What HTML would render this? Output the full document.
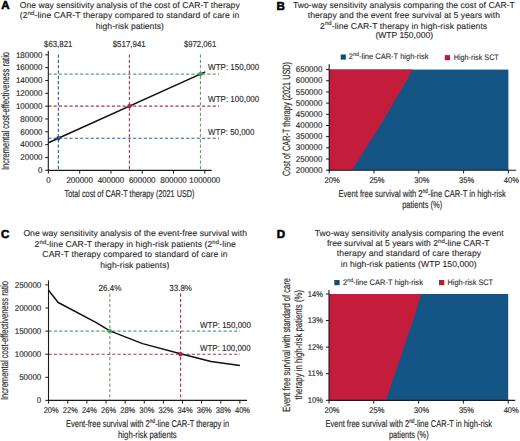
<!DOCTYPE html>
<html><head><meta charset="utf-8"><style>
html,body{margin:0;padding:0;background:#fff;}
svg{display:block;}
text{font-family:"Liberation Sans", sans-serif;text-rendering:geometricPrecision;}
</style></head><body>
<svg width="520" height="441" viewBox="0 0 520 441">
<rect x="0" y="0" width="520" height="441" fill="#fff"/>
<text x="1.3" y="9.3" font-size="11.6" text-anchor="start" font-weight="bold" fill="#000" stroke="#000" stroke-width="0.55">A</text>
<text x="129.75" y="8.4" font-size="8.6" text-anchor="middle" font-weight="normal" fill="#2b2b2b" stroke="#2b2b2b" stroke-width="0.12" textLength="219.9" lengthAdjust="spacing">One way sensitivity analysis of the cost of CAR-T therapy</text>
<text x="129.5" y="18.3" font-size="8.6" text-anchor="middle" font-weight="normal" fill="#2b2b2b" stroke="#2b2b2b" stroke-width="0.12" textLength="219.4" lengthAdjust="spacing">(2<tspan font-size="6" dy="-3.3">nd</tspan><tspan dy="3.3">-line CAR-T therapy compared to standard of care in</tspan></text>
<text x="129.9" y="28.8" font-size="8.6" text-anchor="middle" font-weight="normal" fill="#2b2b2b" stroke="#2b2b2b" stroke-width="0.12" textLength="68.2" lengthAdjust="spacing">high-risk patients)</text>
<line x1="58.3816044" y1="54.5" x2="58.3816044" y2="170.4" stroke="#2b6290" stroke-width="1.1" stroke-dasharray="3.2 2.1"/>
<line x1="48.3" y1="138.22500000000002" x2="219" y2="138.22500000000002" stroke="#2b6290" stroke-width="1.1" stroke-dasharray="3.2 2.1"/>
<line x1="129.4059724" y1="54.5" x2="129.4059724" y2="170.4" stroke="#a8335a" stroke-width="1.1" stroke-dasharray="3.2 2.1"/>
<line x1="48.3" y1="106.15" x2="219" y2="106.15" stroke="#a8335a" stroke-width="1.1" stroke-dasharray="3.2 2.1"/>
<line x1="200.4303404" y1="54.5" x2="200.4303404" y2="170.4" stroke="#62a070" stroke-width="1.1" stroke-dasharray="3.2 2.1"/>
<line x1="48.3" y1="74.07500000000002" x2="219" y2="74.07500000000002" stroke="#62a070" stroke-width="1.1" stroke-dasharray="3.2 2.1"/>
<text x="58.2" y="47.2" font-size="8.7" text-anchor="middle" font-weight="normal" fill="#2b2b2b" stroke="#2b2b2b" stroke-width="0.14" textLength="28.3" lengthAdjust="spacingAndGlyphs">$63,821</text>
<text x="129.2" y="47.2" font-size="8.7" text-anchor="middle" font-weight="normal" fill="#2b2b2b" stroke="#2b2b2b" stroke-width="0.14" textLength="33.1" lengthAdjust="spacingAndGlyphs">$517,941</text>
<text x="200.1" y="47.2" font-size="8.7" text-anchor="middle" font-weight="normal" fill="#2b2b2b" stroke="#2b2b2b" stroke-width="0.14" textLength="32.3" lengthAdjust="spacingAndGlyphs">$972,061</text>
<text x="208.1" y="70.4" font-size="8.7" text-anchor="start" font-weight="normal" fill="#2b2b2b" stroke="#2b2b2b" stroke-width="0.14" textLength="51.2" lengthAdjust="spacingAndGlyphs">WTP: 150,000</text>
<text x="208.1" y="102.1" font-size="8.7" text-anchor="start" font-weight="normal" fill="#2b2b2b" stroke="#2b2b2b" stroke-width="0.14" textLength="51.2" lengthAdjust="spacingAndGlyphs">WTP: 100,000</text>
<text x="208.1" y="134.5" font-size="8.7" text-anchor="start" font-weight="normal" fill="#2b2b2b" stroke="#2b2b2b" stroke-width="0.14" textLength="46.3" lengthAdjust="spacingAndGlyphs">WTP: 50,000</text>
<line x1="48.3" y1="51" x2="48.3" y2="170.9" stroke="#1a1a1a" stroke-width="1.1"/>
<line x1="47.8" y1="170.4" x2="211.7" y2="170.4" stroke="#1a1a1a" stroke-width="1.1"/>
<line x1="45.2" y1="170.3" x2="48.3" y2="170.3" stroke="#1a1a1a" stroke-width="1"/>
<text x="42.5" y="173.0" font-size="8.4" text-anchor="end" font-weight="normal" fill="#2b2b2b" stroke="#2b2b2b" stroke-width="0.16" textLength="4.43" lengthAdjust="spacingAndGlyphs">0</text>
<line x1="45.2" y1="157.47" x2="48.3" y2="157.47" stroke="#1a1a1a" stroke-width="1"/>
<text x="42.5" y="160.17" font-size="8.4" text-anchor="end" font-weight="normal" fill="#2b2b2b" stroke="#2b2b2b" stroke-width="0.16" textLength="22.15" lengthAdjust="spacingAndGlyphs">20000</text>
<line x1="45.2" y1="144.64000000000001" x2="48.3" y2="144.64000000000001" stroke="#1a1a1a" stroke-width="1"/>
<text x="42.5" y="147.34" font-size="8.4" text-anchor="end" font-weight="normal" fill="#2b2b2b" stroke="#2b2b2b" stroke-width="0.16" textLength="22.15" lengthAdjust="spacingAndGlyphs">40000</text>
<line x1="45.2" y1="131.81" x2="48.3" y2="131.81" stroke="#1a1a1a" stroke-width="1"/>
<text x="42.5" y="134.51" font-size="8.4" text-anchor="end" font-weight="normal" fill="#2b2b2b" stroke="#2b2b2b" stroke-width="0.16" textLength="22.15" lengthAdjust="spacingAndGlyphs">60000</text>
<line x1="45.2" y1="118.98000000000002" x2="48.3" y2="118.98000000000002" stroke="#1a1a1a" stroke-width="1"/>
<text x="42.5" y="121.68000000000002" font-size="8.4" text-anchor="end" font-weight="normal" fill="#2b2b2b" stroke="#2b2b2b" stroke-width="0.16" textLength="22.15" lengthAdjust="spacingAndGlyphs">80000</text>
<line x1="45.2" y1="106.15" x2="48.3" y2="106.15" stroke="#1a1a1a" stroke-width="1"/>
<text x="42.5" y="108.85000000000001" font-size="8.4" text-anchor="end" font-weight="normal" fill="#2b2b2b" stroke="#2b2b2b" stroke-width="0.16" textLength="26.58" lengthAdjust="spacingAndGlyphs">100000</text>
<line x1="45.2" y1="93.32000000000001" x2="48.3" y2="93.32000000000001" stroke="#1a1a1a" stroke-width="1"/>
<text x="42.5" y="96.02000000000001" font-size="8.4" text-anchor="end" font-weight="normal" fill="#2b2b2b" stroke="#2b2b2b" stroke-width="0.16" textLength="26.58" lengthAdjust="spacingAndGlyphs">120000</text>
<line x1="45.2" y1="80.49000000000001" x2="48.3" y2="80.49000000000001" stroke="#1a1a1a" stroke-width="1"/>
<text x="42.5" y="83.19000000000001" font-size="8.4" text-anchor="end" font-weight="normal" fill="#2b2b2b" stroke="#2b2b2b" stroke-width="0.16" textLength="26.58" lengthAdjust="spacingAndGlyphs">140000</text>
<line x1="45.2" y1="67.66000000000001" x2="48.3" y2="67.66000000000001" stroke="#1a1a1a" stroke-width="1"/>
<text x="42.5" y="70.36000000000001" font-size="8.4" text-anchor="end" font-weight="normal" fill="#2b2b2b" stroke="#2b2b2b" stroke-width="0.16" textLength="26.58" lengthAdjust="spacingAndGlyphs">160000</text>
<line x1="45.2" y1="54.83000000000001" x2="48.3" y2="54.83000000000001" stroke="#1a1a1a" stroke-width="1"/>
<text x="42.5" y="57.530000000000015" font-size="8.4" text-anchor="end" font-weight="normal" fill="#2b2b2b" stroke="#2b2b2b" stroke-width="0.16" textLength="26.58" lengthAdjust="spacingAndGlyphs">180000</text>
<line x1="48.4" y1="170.4" x2="48.4" y2="173.6" stroke="#1a1a1a" stroke-width="1"/>
<text x="48.4" y="182.7" font-size="8.4" text-anchor="middle" font-weight="normal" fill="#2b2b2b" stroke="#2b2b2b" stroke-width="0.16" textLength="4.43" lengthAdjust="spacingAndGlyphs">0</text>
<line x1="79.68" y1="170.4" x2="79.68" y2="173.6" stroke="#1a1a1a" stroke-width="1"/>
<text x="79.68" y="182.7" font-size="8.4" text-anchor="middle" font-weight="normal" fill="#2b2b2b" stroke="#2b2b2b" stroke-width="0.16" textLength="26.58" lengthAdjust="spacingAndGlyphs">200000</text>
<line x1="110.96000000000001" y1="170.4" x2="110.96000000000001" y2="173.6" stroke="#1a1a1a" stroke-width="1"/>
<text x="110.96000000000001" y="182.7" font-size="8.4" text-anchor="middle" font-weight="normal" fill="#2b2b2b" stroke="#2b2b2b" stroke-width="0.16" textLength="26.58" lengthAdjust="spacingAndGlyphs">400000</text>
<line x1="142.24" y1="170.4" x2="142.24" y2="173.6" stroke="#1a1a1a" stroke-width="1"/>
<text x="142.24" y="182.7" font-size="8.4" text-anchor="middle" font-weight="normal" fill="#2b2b2b" stroke="#2b2b2b" stroke-width="0.16" textLength="26.58" lengthAdjust="spacingAndGlyphs">600000</text>
<line x1="173.52" y1="170.4" x2="173.52" y2="173.6" stroke="#1a1a1a" stroke-width="1"/>
<text x="173.52" y="182.7" font-size="8.4" text-anchor="middle" font-weight="normal" fill="#2b2b2b" stroke="#2b2b2b" stroke-width="0.16" textLength="26.58" lengthAdjust="spacingAndGlyphs">800000</text>
<line x1="204.8" y1="170.4" x2="204.8" y2="173.6" stroke="#1a1a1a" stroke-width="1"/>
<text x="204.8" y="182.7" font-size="8.4" text-anchor="middle" font-weight="normal" fill="#2b2b2b" stroke="#2b2b2b" stroke-width="0.16" textLength="31.009999999999998" lengthAdjust="spacingAndGlyphs">1000000</text>
<text x="129.5" y="196.7" font-size="9.9" text-anchor="middle" font-weight="normal" fill="#2b2b2b" stroke="#2b2b2b" stroke-width="0.16" textLength="130" lengthAdjust="spacingAndGlyphs">Total cost of CAR-T therapy (2021 USD)</text>
<text transform="translate(9.3,111) rotate(-90)" x="0" y="0" font-size="10.6" text-anchor="middle" fill="#2b2b2b" stroke="#2b2b2b" stroke-width="0.16" textLength="118" lengthAdjust="spacingAndGlyphs">Incremental cost-effectiveness ratio</text>
<line x1="48.4" y1="142.7328205" x2="205.2692" y2="71.89178305000002" stroke="#111" stroke-width="1.5"/>
<circle cx="58.3816044" cy="138.22500000000002" r="2.2" fill="#1f5575"/>
<circle cx="129.4059724" cy="106.15" r="2.2" fill="#b51f45"/>
<circle cx="200.4303404" cy="74.07500000000002" r="2.2" fill="#3ea04a"/>
<text x="276.6" y="9.9" font-size="11.6" text-anchor="start" font-weight="bold" fill="#000" stroke="#000" stroke-width="0.55">B</text>
<text x="403.9" y="8.4" font-size="8.6" text-anchor="middle" font-weight="normal" fill="#2b2b2b" stroke="#2b2b2b" stroke-width="0.12" textLength="221.8" lengthAdjust="spacing">Two-way sensitivity analysis comparing the cost of CAR-T</text>
<text x="403.9" y="18.2" font-size="8.6" text-anchor="middle" font-weight="normal" fill="#2b2b2b" stroke="#2b2b2b" stroke-width="0.12" textLength="192.3" lengthAdjust="spacing">therapy and the event free survival at 5 years with</text>
<text x="403.6" y="28.5" font-size="8.6" text-anchor="middle" font-weight="normal" fill="#2b2b2b" stroke="#2b2b2b" stroke-width="0.12" textLength="167.1" lengthAdjust="spacing">2<tspan font-size="6" dy="-3.3">nd</tspan><tspan dy="3.3">-line CAR-T therapy in high-risk patients</tspan></text>
<text x="404.2" y="37.9" font-size="8.6" text-anchor="middle" font-weight="normal" fill="#2b2b2b" stroke="#2b2b2b" stroke-width="0.12" textLength="57.6" lengthAdjust="spacing">(WTP 150,000)</text>
<rect x="340.7" y="54.5" width="5.2" height="5.1" fill="#124a78"/>
<text x="348.8" y="59.4" font-size="8.0" text-anchor="start" font-weight="normal" fill="#2b2b2b" stroke="#2b2b2b" stroke-width="0.1" textLength="79.7" lengthAdjust="spacingAndGlyphs">2<tspan font-size="5.8" dy="-3.2">nd</tspan><tspan dy="3.2">-line CAR-T high-risk</tspan></text>
<rect x="444.8" y="55.1" width="5.2" height="5.1" fill="#bb1a3a"/>
<text x="453.7" y="59.6" font-size="8.0" text-anchor="start" font-weight="normal" fill="#2b2b2b" stroke="#2b2b2b" stroke-width="0.1" textLength="45.1" lengthAdjust="spacingAndGlyphs">High-risk SCT</text>
<rect x="329.2" y="69.57999999999998" width="179.2" height="100.62" fill="#145586"/>
<polygon points="329.2,170.2 351.97,170.20 358.45,160.14 364.84,150.08 371.15,140.01 377.36,129.95 383.49,119.89 389.52,109.83 395.47,99.77 401.33,89.70 407.10,79.64 412.79,69.58 329.2,69.57999999999998" fill="#c41c3b"/>
<line x1="329.2" y1="64.3" x2="329.2" y2="170.7" stroke="#1a1a1a" stroke-width="1.1"/>
<line x1="328.7" y1="170.2" x2="516.2" y2="170.2" stroke="#1a1a1a" stroke-width="1.1"/>
<line x1="326.0" y1="170.2" x2="329.2" y2="170.2" stroke="#1a1a1a" stroke-width="1"/>
<text x="322.3" y="172.79999999999998" font-size="8.4" text-anchor="end" font-weight="normal" fill="#2b2b2b" stroke="#2b2b2b" stroke-width="0.16" textLength="26.5" lengthAdjust="spacingAndGlyphs">200000</text>
<line x1="326.0" y1="159.01999999999998" x2="329.2" y2="159.01999999999998" stroke="#1a1a1a" stroke-width="1"/>
<text x="322.3" y="161.61999999999998" font-size="8.4" text-anchor="end" font-weight="normal" fill="#2b2b2b" stroke="#2b2b2b" stroke-width="0.16" textLength="26.5" lengthAdjust="spacingAndGlyphs">250000</text>
<line x1="326.0" y1="147.83999999999997" x2="329.2" y2="147.83999999999997" stroke="#1a1a1a" stroke-width="1"/>
<text x="322.3" y="150.43999999999997" font-size="8.4" text-anchor="end" font-weight="normal" fill="#2b2b2b" stroke="#2b2b2b" stroke-width="0.16" textLength="26.5" lengthAdjust="spacingAndGlyphs">300000</text>
<line x1="326.0" y1="136.66" x2="329.2" y2="136.66" stroke="#1a1a1a" stroke-width="1"/>
<text x="322.3" y="139.26" font-size="8.4" text-anchor="end" font-weight="normal" fill="#2b2b2b" stroke="#2b2b2b" stroke-width="0.16" textLength="26.5" lengthAdjust="spacingAndGlyphs">350000</text>
<line x1="326.0" y1="125.47999999999999" x2="329.2" y2="125.47999999999999" stroke="#1a1a1a" stroke-width="1"/>
<text x="322.3" y="128.07999999999998" font-size="8.4" text-anchor="end" font-weight="normal" fill="#2b2b2b" stroke="#2b2b2b" stroke-width="0.16" textLength="26.5" lengthAdjust="spacingAndGlyphs">400000</text>
<line x1="326.0" y1="114.29999999999998" x2="329.2" y2="114.29999999999998" stroke="#1a1a1a" stroke-width="1"/>
<text x="322.3" y="116.89999999999998" font-size="8.4" text-anchor="end" font-weight="normal" fill="#2b2b2b" stroke="#2b2b2b" stroke-width="0.16" textLength="26.5" lengthAdjust="spacingAndGlyphs">450000</text>
<line x1="326.0" y1="103.11999999999999" x2="329.2" y2="103.11999999999999" stroke="#1a1a1a" stroke-width="1"/>
<text x="322.3" y="105.71999999999998" font-size="8.4" text-anchor="end" font-weight="normal" fill="#2b2b2b" stroke="#2b2b2b" stroke-width="0.16" textLength="26.5" lengthAdjust="spacingAndGlyphs">500000</text>
<line x1="326.0" y1="91.94" x2="329.2" y2="91.94" stroke="#1a1a1a" stroke-width="1"/>
<text x="322.3" y="94.53999999999999" font-size="8.4" text-anchor="end" font-weight="normal" fill="#2b2b2b" stroke="#2b2b2b" stroke-width="0.16" textLength="26.5" lengthAdjust="spacingAndGlyphs">550000</text>
<line x1="326.0" y1="80.75999999999999" x2="329.2" y2="80.75999999999999" stroke="#1a1a1a" stroke-width="1"/>
<text x="322.3" y="83.35999999999999" font-size="8.4" text-anchor="end" font-weight="normal" fill="#2b2b2b" stroke="#2b2b2b" stroke-width="0.16" textLength="26.5" lengthAdjust="spacingAndGlyphs">600000</text>
<line x1="326.0" y1="69.57999999999998" x2="329.2" y2="69.57999999999998" stroke="#1a1a1a" stroke-width="1"/>
<text x="322.3" y="72.17999999999998" font-size="8.4" text-anchor="end" font-weight="normal" fill="#2b2b2b" stroke="#2b2b2b" stroke-width="0.16" textLength="26.5" lengthAdjust="spacingAndGlyphs">650000</text>
<line x1="329.2" y1="170.2" x2="329.2" y2="173.4" stroke="#1a1a1a" stroke-width="1"/>
<text x="332.2" y="182.9" font-size="8.4" text-anchor="middle" font-weight="normal" fill="#2b2b2b" stroke="#2b2b2b" stroke-width="0.16" textLength="15.2" lengthAdjust="spacingAndGlyphs">20%</text>
<line x1="374.0" y1="170.2" x2="374.0" y2="173.4" stroke="#1a1a1a" stroke-width="1"/>
<text x="377.0" y="182.9" font-size="8.4" text-anchor="middle" font-weight="normal" fill="#2b2b2b" stroke="#2b2b2b" stroke-width="0.16" textLength="15.2" lengthAdjust="spacingAndGlyphs">25%</text>
<line x1="418.79999999999995" y1="170.2" x2="418.79999999999995" y2="173.4" stroke="#1a1a1a" stroke-width="1"/>
<text x="421.79999999999995" y="182.9" font-size="8.4" text-anchor="middle" font-weight="normal" fill="#2b2b2b" stroke="#2b2b2b" stroke-width="0.16" textLength="15.2" lengthAdjust="spacingAndGlyphs">30%</text>
<line x1="463.6" y1="170.2" x2="463.6" y2="173.4" stroke="#1a1a1a" stroke-width="1"/>
<text x="466.6" y="182.9" font-size="8.4" text-anchor="middle" font-weight="normal" fill="#2b2b2b" stroke="#2b2b2b" stroke-width="0.16" textLength="15.2" lengthAdjust="spacingAndGlyphs">35%</text>
<line x1="508.4" y1="170.2" x2="508.4" y2="173.4" stroke="#1a1a1a" stroke-width="1"/>
<text x="511.4" y="182.9" font-size="8.4" text-anchor="middle" font-weight="normal" fill="#2b2b2b" stroke="#2b2b2b" stroke-width="0.16" textLength="15.2" lengthAdjust="spacingAndGlyphs">40%</text>
<text x="422.2" y="196.5" font-size="9.9" text-anchor="middle" font-weight="normal" fill="#2b2b2b" stroke="#2b2b2b" stroke-width="0.16" textLength="167.3" lengthAdjust="spacingAndGlyphs">Event free survival with 2<tspan font-size="6.3" dy="-3.4">nd</tspan><tspan dy="3.4">-line CAR-T in high-risk</tspan></text>
<text x="422.2" y="207.5" font-size="9.9" text-anchor="middle" font-weight="normal" fill="#2b2b2b" stroke="#2b2b2b" stroke-width="0.16" textLength="40" lengthAdjust="spacingAndGlyphs">patients (%)</text>
<text transform="translate(289.8,119) rotate(-90)" x="0" y="0" font-size="10.6" text-anchor="middle" fill="#2b2b2b" stroke="#2b2b2b" stroke-width="0.16" textLength="114" lengthAdjust="spacingAndGlyphs">Cost of CAR-T therapy (2021 USD)</text>
<text x="1.0" y="238.2" font-size="11.6" text-anchor="start" font-weight="bold" fill="#000" stroke="#000" stroke-width="0.55">C</text>
<text x="135.2" y="236.3" font-size="8.6" text-anchor="middle" font-weight="normal" fill="#2b2b2b" stroke="#2b2b2b" stroke-width="0.12" textLength="223.6" lengthAdjust="spacing">One way sensitivity analysis of the event-free survival with</text>
<text x="135.2" y="246.8" font-size="8.6" text-anchor="middle" font-weight="normal" fill="#2b2b2b" stroke="#2b2b2b" stroke-width="0.12" textLength="201.2" lengthAdjust="spacing">2<tspan font-size="6" dy="-3.3">nd</tspan><tspan dy="3.3">-line CAR-T therapy in high-risk patients (2</tspan><tspan font-size="6" dy="-3.3">nd</tspan><tspan dy="3.3">-line</tspan></text>
<text x="135.0" y="257.0" font-size="8.6" text-anchor="middle" font-weight="normal" fill="#2b2b2b" stroke="#2b2b2b" stroke-width="0.12" textLength="185.3" lengthAdjust="spacing">CAR-T therapy compared to standard of care in</text>
<text x="134.8" y="268.0" font-size="8.6" text-anchor="middle" font-weight="normal" fill="#2b2b2b" stroke="#2b2b2b" stroke-width="0.12" textLength="69.2" lengthAdjust="spacing">high-risk patients)</text>
<line x1="109.81599999999997" y1="293.5" x2="109.81599999999997" y2="400.4" stroke="#62a070" stroke-width="1.1" stroke-dasharray="3.2 2.1"/>
<line x1="48.6" y1="331.09999999999997" x2="240" y2="331.09999999999997" stroke="#62a070" stroke-width="1.1" stroke-dasharray="3.2 2.1"/>
<line x1="180.59699999999995" y1="293.5" x2="180.59699999999995" y2="400.4" stroke="#a8335a" stroke-width="1.1" stroke-dasharray="3.2 2.1"/>
<line x1="48.6" y1="354.2" x2="240" y2="354.2" stroke="#a8335a" stroke-width="1.1" stroke-dasharray="3.2 2.1"/>
<text x="109.9" y="290.5" font-size="8.7" text-anchor="middle" font-weight="normal" fill="#2b2b2b" stroke="#2b2b2b" stroke-width="0.14" textLength="22.8" lengthAdjust="spacingAndGlyphs">26.4%</text>
<text x="180.6" y="290.5" font-size="8.7" text-anchor="middle" font-weight="normal" fill="#2b2b2b" stroke="#2b2b2b" stroke-width="0.14" textLength="22.7" lengthAdjust="spacingAndGlyphs">33.8%</text>
<text x="200" y="327.7" font-size="8.7" text-anchor="start" font-weight="normal" fill="#2b2b2b" stroke="#2b2b2b" stroke-width="0.14" textLength="51" lengthAdjust="spacingAndGlyphs">WTP: 150,000</text>
<text x="200" y="350.9" font-size="8.7" text-anchor="start" font-weight="normal" fill="#2b2b2b" stroke="#2b2b2b" stroke-width="0.14" textLength="50.7" lengthAdjust="spacingAndGlyphs">WTP: 100,000</text>
<line x1="48.5" y1="280.4" x2="48.5" y2="400.9" stroke="#1a1a1a" stroke-width="1.1"/>
<line x1="48.0" y1="400.4" x2="247.1" y2="400.4" stroke="#1a1a1a" stroke-width="1.1"/>
<line x1="45.4" y1="400.4" x2="48.5" y2="400.4" stroke="#1a1a1a" stroke-width="1"/>
<text x="41.3" y="403.09999999999997" font-size="8.4" text-anchor="end" font-weight="normal" fill="#2b2b2b" stroke="#2b2b2b" stroke-width="0.16" textLength="4.43" lengthAdjust="spacingAndGlyphs">0</text>
<line x1="45.4" y1="377.29999999999995" x2="48.5" y2="377.29999999999995" stroke="#1a1a1a" stroke-width="1"/>
<text x="41.3" y="379.99999999999994" font-size="8.4" text-anchor="end" font-weight="normal" fill="#2b2b2b" stroke="#2b2b2b" stroke-width="0.16" textLength="22.15" lengthAdjust="spacingAndGlyphs">50000</text>
<line x1="45.4" y1="354.2" x2="48.5" y2="354.2" stroke="#1a1a1a" stroke-width="1"/>
<text x="41.3" y="356.9" font-size="8.4" text-anchor="end" font-weight="normal" fill="#2b2b2b" stroke="#2b2b2b" stroke-width="0.16" textLength="26.58" lengthAdjust="spacingAndGlyphs">100000</text>
<line x1="45.4" y1="331.09999999999997" x2="48.5" y2="331.09999999999997" stroke="#1a1a1a" stroke-width="1"/>
<text x="41.3" y="333.79999999999995" font-size="8.4" text-anchor="end" font-weight="normal" fill="#2b2b2b" stroke="#2b2b2b" stroke-width="0.16" textLength="26.58" lengthAdjust="spacingAndGlyphs">150000</text>
<line x1="45.4" y1="308.0" x2="48.5" y2="308.0" stroke="#1a1a1a" stroke-width="1"/>
<text x="41.3" y="310.7" font-size="8.4" text-anchor="end" font-weight="normal" fill="#2b2b2b" stroke="#2b2b2b" stroke-width="0.16" textLength="26.58" lengthAdjust="spacingAndGlyphs">200000</text>
<line x1="45.4" y1="284.9" x2="48.5" y2="284.9" stroke="#1a1a1a" stroke-width="1"/>
<text x="41.3" y="287.59999999999997" font-size="8.4" text-anchor="end" font-weight="normal" fill="#2b2b2b" stroke="#2b2b2b" stroke-width="0.16" textLength="26.58" lengthAdjust="spacingAndGlyphs">250000</text>
<line x1="48.6" y1="400.4" x2="48.6" y2="403.6" stroke="#1a1a1a" stroke-width="1"/>
<text x="51.2" y="412.7" font-size="8.4" text-anchor="middle" font-weight="normal" fill="#2b2b2b" stroke="#2b2b2b" stroke-width="0.16" textLength="15.0" lengthAdjust="spacingAndGlyphs">20%</text>
<line x1="67.73" y1="400.4" x2="67.73" y2="403.6" stroke="#1a1a1a" stroke-width="1"/>
<text x="70.33" y="412.7" font-size="8.4" text-anchor="middle" font-weight="normal" fill="#2b2b2b" stroke="#2b2b2b" stroke-width="0.16" textLength="15.0" lengthAdjust="spacingAndGlyphs">22%</text>
<line x1="86.86" y1="400.4" x2="86.86" y2="403.6" stroke="#1a1a1a" stroke-width="1"/>
<text x="89.46" y="412.7" font-size="8.4" text-anchor="middle" font-weight="normal" fill="#2b2b2b" stroke="#2b2b2b" stroke-width="0.16" textLength="15.0" lengthAdjust="spacingAndGlyphs">24%</text>
<line x1="105.99000000000001" y1="400.4" x2="105.99000000000001" y2="403.6" stroke="#1a1a1a" stroke-width="1"/>
<text x="108.59" y="412.7" font-size="8.4" text-anchor="middle" font-weight="normal" fill="#2b2b2b" stroke="#2b2b2b" stroke-width="0.16" textLength="15.0" lengthAdjust="spacingAndGlyphs">26%</text>
<line x1="125.12" y1="400.4" x2="125.12" y2="403.6" stroke="#1a1a1a" stroke-width="1"/>
<text x="127.72" y="412.7" font-size="8.4" text-anchor="middle" font-weight="normal" fill="#2b2b2b" stroke="#2b2b2b" stroke-width="0.16" textLength="15.0" lengthAdjust="spacingAndGlyphs">28%</text>
<line x1="144.25" y1="400.4" x2="144.25" y2="403.6" stroke="#1a1a1a" stroke-width="1"/>
<text x="146.85" y="412.7" font-size="8.4" text-anchor="middle" font-weight="normal" fill="#2b2b2b" stroke="#2b2b2b" stroke-width="0.16" textLength="15.0" lengthAdjust="spacingAndGlyphs">30%</text>
<line x1="163.38" y1="400.4" x2="163.38" y2="403.6" stroke="#1a1a1a" stroke-width="1"/>
<text x="165.98" y="412.7" font-size="8.4" text-anchor="middle" font-weight="normal" fill="#2b2b2b" stroke="#2b2b2b" stroke-width="0.16" textLength="15.0" lengthAdjust="spacingAndGlyphs">32%</text>
<line x1="182.51" y1="400.4" x2="182.51" y2="403.6" stroke="#1a1a1a" stroke-width="1"/>
<text x="185.10999999999999" y="412.7" font-size="8.4" text-anchor="middle" font-weight="normal" fill="#2b2b2b" stroke="#2b2b2b" stroke-width="0.16" textLength="15.0" lengthAdjust="spacingAndGlyphs">34%</text>
<line x1="201.64" y1="400.4" x2="201.64" y2="403.6" stroke="#1a1a1a" stroke-width="1"/>
<text x="204.23999999999998" y="412.7" font-size="8.4" text-anchor="middle" font-weight="normal" fill="#2b2b2b" stroke="#2b2b2b" stroke-width="0.16" textLength="15.0" lengthAdjust="spacingAndGlyphs">36%</text>
<line x1="220.76999999999998" y1="400.4" x2="220.76999999999998" y2="403.6" stroke="#1a1a1a" stroke-width="1"/>
<text x="223.36999999999998" y="412.7" font-size="8.4" text-anchor="middle" font-weight="normal" fill="#2b2b2b" stroke="#2b2b2b" stroke-width="0.16" textLength="15.0" lengthAdjust="spacingAndGlyphs">38%</text>
<line x1="239.89999999999998" y1="400.4" x2="239.89999999999998" y2="403.6" stroke="#1a1a1a" stroke-width="1"/>
<text x="242.49999999999997" y="412.7" font-size="8.4" text-anchor="middle" font-weight="normal" fill="#2b2b2b" stroke="#2b2b2b" stroke-width="0.16" textLength="15.0" lengthAdjust="spacingAndGlyphs">40%</text>
<text x="147.6" y="426.8" font-size="9.9" text-anchor="middle" font-weight="normal" fill="#2b2b2b" stroke="#2b2b2b" stroke-width="0.16" textLength="163.2" lengthAdjust="spacingAndGlyphs">Event-free survival with 2<tspan font-size="6.3" dy="-3.4">nd</tspan><tspan dy="3.4">-line CAR-T therapy in</tspan></text>
<text x="147.4" y="437.6" font-size="9.9" text-anchor="middle" font-weight="normal" fill="#2b2b2b" stroke="#2b2b2b" stroke-width="0.16" textLength="58.7" lengthAdjust="spacingAndGlyphs">high-risk patients</text>
<text transform="translate(8.4,340.5) rotate(-90)" x="0" y="0" font-size="10.6" text-anchor="middle" fill="#2b2b2b" stroke="#2b2b2b" stroke-width="0.16" textLength="119" lengthAdjust="spacingAndGlyphs">Incremental cost-effectiveness ratio</text>
<polyline points="48.5,290.2 58.2,302.5 96.3,322.7 109.9,330.9 142.5,343.6 180.6,353.7 211.0,361.4 239.9,365.4" fill="none" stroke="#111" stroke-width="1.5" stroke-linejoin="round"/>
<circle cx="109.81599999999997" cy="331.09999999999997" r="2.2" fill="#3ea04a"/>
<circle cx="180.59699999999995" cy="354.2" r="2.2" fill="#b51f45"/>
<text x="276.8" y="238.2" font-size="11.6" text-anchor="start" font-weight="bold" fill="#000" stroke="#000" stroke-width="0.55">D</text>
<text x="409.25" y="235.8" font-size="8.6" text-anchor="middle" font-weight="normal" fill="#2b2b2b" stroke="#2b2b2b" stroke-width="0.12" textLength="188.9" lengthAdjust="spacing">Two-way sensitivity analysis comparing the event</text>
<text x="408.25" y="246.3" font-size="8.6" text-anchor="middle" font-weight="normal" fill="#2b2b2b" stroke="#2b2b2b" stroke-width="0.12" textLength="162.7" lengthAdjust="spacing">free survival at 5 years with 2<tspan font-size="6" dy="-3.3">nd</tspan><tspan dy="3.3">-line CAR-T</tspan></text>
<text x="409.0" y="256.0" font-size="8.6" text-anchor="middle" font-weight="normal" fill="#2b2b2b" stroke="#2b2b2b" stroke-width="0.12" textLength="144.3" lengthAdjust="spacing">therapy and standard of care therapy</text>
<text x="408.75" y="266.8" font-size="8.6" text-anchor="middle" font-weight="normal" fill="#2b2b2b" stroke="#2b2b2b" stroke-width="0.12" textLength="135.9" lengthAdjust="spacing">in high-risk patients (WTP 150,000)</text>
<rect x="334.3" y="280.0" width="5.3" height="5.2" fill="#124a78"/>
<text x="343" y="285.2" font-size="8.0" text-anchor="start" font-weight="normal" fill="#2b2b2b" stroke="#2b2b2b" stroke-width="0.1" textLength="79.9" lengthAdjust="spacingAndGlyphs">2<tspan font-size="5.8" dy="-3.2">nd</tspan><tspan dy="3.2">-line CAR-T high-risk</tspan></text>
<rect x="439.0" y="280.0" width="5.3" height="5.2" fill="#bb1a3a"/>
<text x="447.5" y="285.2" font-size="8.0" text-anchor="start" font-weight="normal" fill="#2b2b2b" stroke="#2b2b2b" stroke-width="0.1" textLength="45.5" lengthAdjust="spacingAndGlyphs">High-risk SCT</text>
<rect x="329.0" y="294.0" width="179.2" height="106.39999999999998" fill="#145586"/>
<polygon points="329.0,400.3 386.2,400.3 393.5,378 399.8,360 408.1,335 415.4,314 421.0,294.0 329.0,294.0" fill="#c41c3b"/>
<line x1="329.0" y1="290.1" x2="329.0" y2="400.9" stroke="#1a1a1a" stroke-width="1.1"/>
<line x1="328.5" y1="400.4" x2="515.2" y2="400.4" stroke="#1a1a1a" stroke-width="1.1"/>
<line x1="325.9" y1="400.3" x2="329.0" y2="400.3" stroke="#1a1a1a" stroke-width="1"/>
<text x="322.8" y="402.90000000000003" font-size="8.4" text-anchor="end" font-weight="normal" fill="#2b2b2b" stroke="#2b2b2b" stroke-width="0.16" textLength="15.0" lengthAdjust="spacingAndGlyphs">10%</text>
<line x1="325.9" y1="373.725" x2="329.0" y2="373.725" stroke="#1a1a1a" stroke-width="1"/>
<text x="322.8" y="376.32500000000005" font-size="8.4" text-anchor="end" font-weight="normal" fill="#2b2b2b" stroke="#2b2b2b" stroke-width="0.16" textLength="15.0" lengthAdjust="spacingAndGlyphs">11%</text>
<line x1="325.9" y1="347.15000000000003" x2="329.0" y2="347.15000000000003" stroke="#1a1a1a" stroke-width="1"/>
<text x="322.8" y="349.75000000000006" font-size="8.4" text-anchor="end" font-weight="normal" fill="#2b2b2b" stroke="#2b2b2b" stroke-width="0.16" textLength="15.0" lengthAdjust="spacingAndGlyphs">12%</text>
<line x1="325.9" y1="320.57500000000005" x2="329.0" y2="320.57500000000005" stroke="#1a1a1a" stroke-width="1"/>
<text x="322.8" y="323.17500000000007" font-size="8.4" text-anchor="end" font-weight="normal" fill="#2b2b2b" stroke="#2b2b2b" stroke-width="0.16" textLength="15.0" lengthAdjust="spacingAndGlyphs">13%</text>
<line x1="325.9" y1="294.0" x2="329.0" y2="294.0" stroke="#1a1a1a" stroke-width="1"/>
<text x="322.8" y="296.6" font-size="8.4" text-anchor="end" font-weight="normal" fill="#2b2b2b" stroke="#2b2b2b" stroke-width="0.16" textLength="15.0" lengthAdjust="spacingAndGlyphs">14%</text>
<line x1="329.0" y1="400.4" x2="329.0" y2="403.6" stroke="#1a1a1a" stroke-width="1"/>
<text x="332.0" y="413.0" font-size="8.4" text-anchor="middle" font-weight="normal" fill="#2b2b2b" stroke="#2b2b2b" stroke-width="0.16" textLength="15.0" lengthAdjust="spacingAndGlyphs">20%</text>
<line x1="373.8" y1="400.4" x2="373.8" y2="403.6" stroke="#1a1a1a" stroke-width="1"/>
<text x="376.8" y="413.0" font-size="8.4" text-anchor="middle" font-weight="normal" fill="#2b2b2b" stroke="#2b2b2b" stroke-width="0.16" textLength="15.0" lengthAdjust="spacingAndGlyphs">25%</text>
<line x1="418.6" y1="400.4" x2="418.6" y2="403.6" stroke="#1a1a1a" stroke-width="1"/>
<text x="421.6" y="413.0" font-size="8.4" text-anchor="middle" font-weight="normal" fill="#2b2b2b" stroke="#2b2b2b" stroke-width="0.16" textLength="15.0" lengthAdjust="spacingAndGlyphs">30%</text>
<line x1="463.4" y1="400.4" x2="463.4" y2="403.6" stroke="#1a1a1a" stroke-width="1"/>
<text x="466.4" y="413.0" font-size="8.4" text-anchor="middle" font-weight="normal" fill="#2b2b2b" stroke="#2b2b2b" stroke-width="0.16" textLength="15.0" lengthAdjust="spacingAndGlyphs">35%</text>
<line x1="508.2" y1="400.4" x2="508.2" y2="403.6" stroke="#1a1a1a" stroke-width="1"/>
<text x="511.2" y="413.0" font-size="8.4" text-anchor="middle" font-weight="normal" fill="#2b2b2b" stroke="#2b2b2b" stroke-width="0.16" textLength="15.0" lengthAdjust="spacingAndGlyphs">40%</text>
<text x="408.8" y="426.6" font-size="9.9" text-anchor="middle" font-weight="normal" fill="#2b2b2b" stroke="#2b2b2b" stroke-width="0.16" textLength="166.6" lengthAdjust="spacingAndGlyphs">Event free survival with 2<tspan font-size="6.3" dy="-3.4">nd</tspan><tspan dy="3.4">-line CAR-T in high-risk</tspan></text>
<text x="408.8" y="437.7" font-size="9.9" text-anchor="middle" font-weight="normal" fill="#2b2b2b" stroke="#2b2b2b" stroke-width="0.16" textLength="39.7" lengthAdjust="spacingAndGlyphs">patients (%)</text>
<text transform="translate(289.5,345.0) rotate(-90)" x="0" y="0" font-size="10.6" text-anchor="middle" fill="#2b2b2b" stroke="#2b2b2b" stroke-width="0.16" textLength="133.7" lengthAdjust="spacingAndGlyphs">Event free survival with standard of care</text>
<text transform="translate(301.7,344.7) rotate(-90)" x="0" y="0" font-size="10.6" text-anchor="middle" fill="#2b2b2b" stroke="#2b2b2b" stroke-width="0.16" textLength="109.4" lengthAdjust="spacingAndGlyphs">therapy in high-risk patients (%)</text>
</svg>
</body></html>
